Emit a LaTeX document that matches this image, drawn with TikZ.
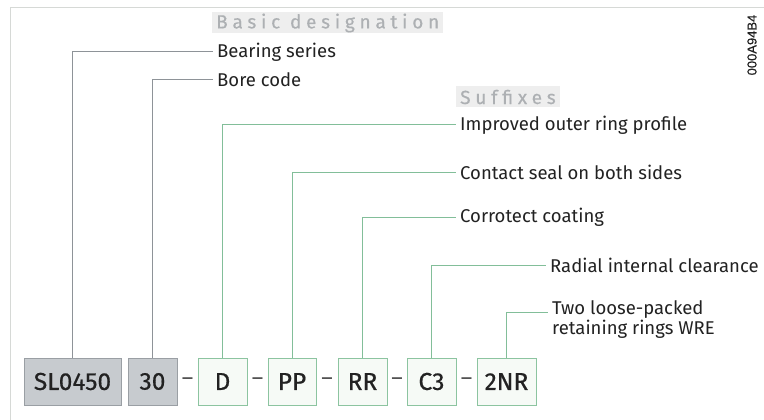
\documentclass[tikz,border=0pt]{standalone}
\usepackage{fontspec}
\setmainfont{Fira Sans}
\newfontfamily\headfont[LetterSpace=25,FakeBold=0.4]{Fira Sans}
\newfontfamily\boxfont[FakeBold=0.5]{Fira Sans}
\newfontfamily\idfont[FakeBold=0.5]{Liberation Sans}
\usetikzlibrary{calc,shadows}
\definecolor{grayfill}{HTML}{C7CBCF}
\definecolor{grayedge}{HTML}{9A9FA4}
\definecolor{grayline}{HTML}{8E9398}
\definecolor{greenfill}{HTML}{F6FAF6}
\definecolor{greenedge}{HTML}{8CC4A0}
\definecolor{greenline}{HTML}{82BE99}
\definecolor{framec}{HTML}{D6D9D6}
\definecolor{headtext}{HTML}{ADB0B3}
\definecolor{headbg}{HTML}{EEEEEE}
\definecolor{txt}{HTML}{222222}
\tikzset{
  codebox/.style={draw, line width=0.9pt, minimum height=47pt, inner sep=0pt,
    font=\boxfont\fontsize{24.5}{28}\selectfont, text=txt,
    drop shadow={shadow xshift=0.8pt, shadow yshift=-1.2pt, fill=black!25, opacity=1}},
  graybox/.style={codebox, fill=grayfill, draw=grayedge},
  greenbox/.style={codebox, fill=greenfill, draw=greenedge},
  lbl/.style={anchor=west, inner sep=0pt, font=\fontsize{18.5}{20}\selectfont, text=txt},
  gline/.style={draw=grayline, line width=1pt},
  grline/.style={draw=greenline, line width=1pt},
  heading/.style={anchor=west, fill=headbg, inner xsep=4pt, inner ysep=0pt, minimum height=21pt,
    font=\headfont\fontsize{19}{21}\selectfont, text=headtext},
  sep/.style={inner sep=0pt, font=\fontsize{22}{26}\selectfont, text=txt!80}
}
\begin{document}
\begin{tikzpicture}[x=1pt,y=-1pt]
\useasboundingbox (0,0) rectangle (764,420);
\fill[white] (0,0) rectangle (764,420);
\draw[framec, line width=1pt] (10,420) -- (10,8) -- (764,8);

% headings
\node[heading] (hbasic) at (212,23) {Basic designation};
\node[heading] (hsuf) at (456,97) {Suffixes};
\node[rotate=90, inner sep=0pt, font=\idfont\fontsize{13}{14}\selectfont, text=txt] (id) at (752,45) {000A94B4};

% boxes
\node[graybox, minimum width=97pt] (sl) at (72.5,381.5) {SL0450};
\node[graybox, minimum width=49pt] (b30) at (152.5,381.5) {30};
\node[greenbox, minimum width=49pt] (bd) at (222.5,381.5) {D};
\node[greenbox, minimum width=48pt] (bpp) at (292,381.5) {PP};
\node[greenbox, minimum width=49pt] (brr) at (362.5,381.5) {RR};
\node[greenbox, minimum width=49pt] (bc3) at (431.5,381.5) {C3};
\node[greenbox, minimum width=59pt] (bnr) at (506.5,381.5) {2NR};

% separators
\node[sep] (s1) at ($(b30.east)!0.5!(bd.west)$) {–};
\node[sep] (s2) at ($(bd.east)!0.5!(bpp.west)$) {–};
\node[sep] (s3) at ($(bpp.east)!0.5!(brr.west)$) {–};
\node[sep] (s4) at ($(brr.east)!0.5!(bc3.west)$) {–};
\node[sep] (s5) at ($(bc3.east)!0.5!(bnr.west)$) {–};

% labels
\node[lbl] (lbs) at (217,52) {Bearing series};
\node[lbl] (lbc) at (217,80) {Bore code};
\node[lbl] (lio) at (460,125) {Improved outer ring profile};
\node[lbl] (lcs) at (460,172) {Contact seal on both sides};
\node[lbl] (lcc) at (460,217) {Corrotect coating};
\node[lbl] (lri) at (550,265) {Radial internal clearance};
\node[lbl, anchor=north west, align=left] (ltl) at (552,300) {Two loose-packed\\retaining rings WRE};

% connectors
\draw[gline] (sl.north) |- ([xshift=-4pt]lbs.west);
\draw[gline] (b30.north) |- ([xshift=-4pt]lbc.west);
\draw[grline] (bd.north) |- ([xshift=-4pt]lio.west);
\draw[grline] (bpp.north) |- ([xshift=-4pt]lcs.west);
\draw[grline] (brr.north) |- ([xshift=-4pt]lcc.west);
\draw[grline] (bc3.north) |- ([xshift=-4pt]lri.west);
\draw[grline] (bnr.north) |- ($(ltl.north west)+(-4,12)$);
\end{tikzpicture}
\end{document}
